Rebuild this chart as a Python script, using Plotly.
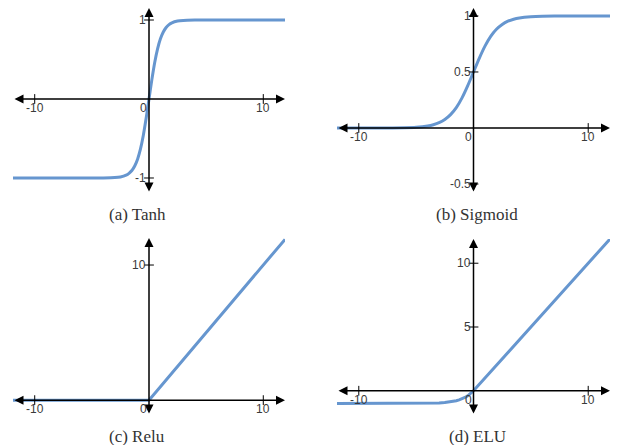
import plotly.graph_objects as go

TANH_X = [-11.9, -5, -4, -3, -2.5, -2, -1.75, -1.5, -1.25, -1, -0.75, -0.5, -0.25, 0,
          0.25, 0.5, 0.75, 1, 1.25, 1.5, 1.75, 2, 2.5, 3, 4, 5, 11.9]
TANH_Y = [-1, -1, -0.999, -0.995, -0.987, -0.964, -0.941, -0.905, -0.848, -0.762, -0.635, -0.462, -0.245, 0,
          0.245, 0.462, 0.635, 0.762, 0.848, 0.905, 0.941, 0.964, 0.987, 0.995, 0.999, 1, 1]

SIG_X = [-11.9, -8, -6, -5, -4, -3.5, -3, -2.5, -2, -1.5, -1, -0.5, 0,
         0.5, 1, 1.5, 2, 2.5, 3, 3.5, 4, 5, 6, 8, 11.9]
SIG_Y = [0, 0.0003, 0.0025, 0.0067, 0.018, 0.029, 0.047, 0.076, 0.119, 0.182, 0.269, 0.378, 0.5,
         0.622, 0.731, 0.818, 0.881, 0.924, 0.953, 0.971, 0.982, 0.993, 0.9975, 0.9997, 1]

RELU_X = [-11.9, 0, 11.9]
RELU_Y = [0, 0, 11.9]

ELU_X = [-11.9, -7, -5, -4, -3, -2.5, -2, -1.75, -1.5, -1.25, -1, -0.75, -0.5, -0.25, 0, 11.9]
ELU_Y = [-1, -0.999, -0.993, -0.982, -0.950, -0.918, -0.865, -0.826, -0.777, -0.713, -0.632, -0.528,
         -0.393, -0.221, 0, 11.9]

X_TICKS = [-10, 10]
TANH_YTICKS = [1, -1]
SIG_YTICKS = [1, 0.5, -0.5]
RELU_YTICKS = [10]
ELU_YTICKS = [5, 10]

CAPTIONS = ["(a) Tanh", "(b) Sigmoid", "(c) Relu", "(d) ELU"]

W, H = 621, 445
OFF = 8  # page margin around the plot div
FW, FH = W - OFF, H - OFF
BLUE = "#6696cf"
TXT = "#3a3a3a"

panels = [
    dict(x=TANH_X, y=TANH_Y, yt=TANH_YTICKS, xr=[-11.9, 11.9], yr=[-1.19, 1.152], shape="spline",
         dx=(13, 285), dy=(8, 193), cap=(137, 214)),
    dict(x=SIG_X, y=SIG_Y, yt=SIG_YTICKS, xr=[-11.9, 11.9], yr=[-0.58, 1.071], shape="spline",
         dx=(337, 610), dy=(8, 193), cap=(477, 214)),
    dict(x=RELU_X, y=RELU_Y, yt=RELU_YTICKS, xr=[-11.9, 11.9], yr=[-1.1, 12.0], shape="linear",
         dx=(13, 285), dy=(238, 415), cap=(137, 436)),
    dict(x=ELU_X, y=ELU_Y, yt=ELU_YTICKS, xr=[-11.9, 11.9], yr=[-1.9, 11.9], shape="linear",
         dx=(337, 610), dy=(239, 415), cap=(477, 436)),
]


def px_x(v):
    return min(1, max(0, (v - OFF) / FW))


def px_y(v):
    return min(1, max(0, 1 - (v - OFF) / FH))


fig = go.Figure()
annotations = []
layout = {}

for i, p in enumerate(panels):
    n = "" if i == 0 else str(i + 1)
    xa, ya = "x" + n, "y" + n
    ax_opts = dict(showgrid=False, zeroline=False, showticklabels=False, showline=False,
                   ticks="", fixedrange=True)
    layout["xaxis" + n] = dict(ax_opts, range=p["xr"], anchor=ya,
                               domain=[px_x(p["dx"][0]), px_x(p["dx"][1])])
    layout["yaxis" + n] = dict(ax_opts, range=p["yr"], anchor=xa,
                               domain=[px_y(p["dy"][1]), px_y(p["dy"][0])])

    # curve
    line = dict(color=BLUE, width=3, shape=p["shape"])
    if p["shape"] == "spline":
        line["smoothing"] = 0.6
    fig.add_trace(go.Scatter(x=p["x"], y=p["y"], mode="lines", xaxis=xa, yaxis=ya,
                             line=line, hoverinfo="skip"))
    # tick marks
    fig.add_trace(go.Scatter(x=X_TICKS, y=[0] * len(X_TICKS), mode="markers", xaxis=xa, yaxis=ya,
                             marker=dict(symbol="line-ns", size=7, line=dict(width=1, color="black")),
                             hoverinfo="skip"))
    fig.add_trace(go.Scatter(x=[0] * len(p["yt"]), y=p["yt"], mode="markers", xaxis=xa, yaxis=ya,
                             marker=dict(symbol="line-ew", size=7, line=dict(width=1, color="black")),
                             hoverinfo="skip"))

    # axes with arrows on both ends
    arrow = dict(text="", showarrow=True, arrowhead=2, startarrowhead=2, arrowside="end+start",
                 arrowwidth=1.5, arrowsize=1.2, startarrowsize=1.2, arrowcolor="black",
                 standoff=0, startstandoff=0, xref=xa, yref=ya, axref=xa, ayref=ya)
    annotations.append(dict(arrow, x=p["xr"][1], y=0, ax=p["xr"][0], ay=0))
    annotations.append(dict(arrow, x=0, y=p["yr"][1], ax=0, ay=p["yr"][0]))

    # tick labels
    lab_font = dict(family="Liberation Sans", size=12, color=TXT)
    for t in X_TICKS:
        annotations.append(dict(text=str(t), x=t, y=0, xref=xa, yref=ya, showarrow=False,
                                xanchor="center", yanchor="top", yshift=0, font=lab_font))
    annotations.append(dict(text="0", x=0, y=0, xref=xa, yref=ya, showarrow=False,
                            xanchor="right", yanchor="top", xshift=0, yshift=0, font=lab_font))
    for t in p["yt"]:
        annotations.append(dict(text=f"{t:g}", x=0, y=t, xref=xa, yref=ya, showarrow=False,
                                xanchor="right", yanchor="middle", xshift=-1, font=lab_font))

    # caption
    annotations.append(dict(text=CAPTIONS[i], x=px_x(p["cap"][0]), y=px_y(p["cap"][1]),
                            xref="paper", yref="paper", showarrow=False,
                            xanchor="center", yanchor="middle",
                            font=dict(family="Liberation Serif", size=17, color="#333333")))

fig.update_layout(
    width=FW, height=FH,
    margin=dict(l=0, r=0, t=0, b=0),
    paper_bgcolor="white", plot_bgcolor="white",
    showlegend=False,
    annotations=annotations,
    **layout,
)

fig.write_html("out.html", config={"displayModeBar": False})
